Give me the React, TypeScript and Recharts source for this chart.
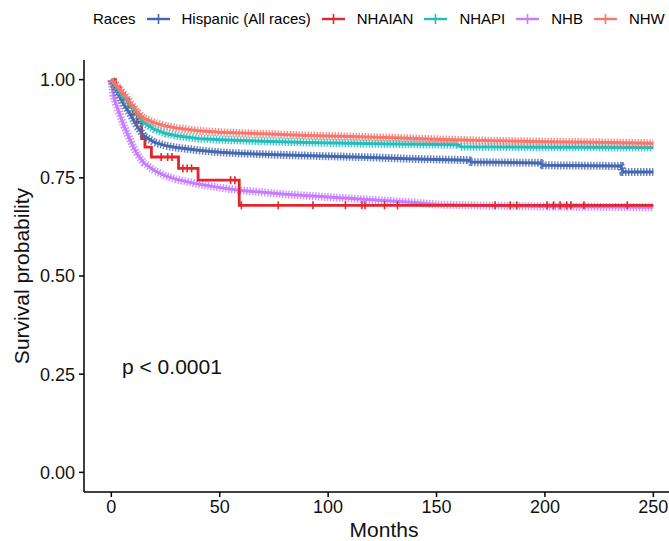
import React from "react";
import { LineChart, Line, XAxis, YAxis } from "recharts";

// Kaplan-Meier curves (months, survival probability)
const hispMonths = [0, 2, 4, 6, 8, 10, 12, 15, 20, 25, 30, 40, 50, 60, 80, 100, 120, 140, 165, 166, 198, 199, 235, 236, 250];
const hispSurv = [1.0, 0.975, 0.955, 0.935, 0.918, 0.9, 0.88, 0.857, 0.84, 0.832, 0.827, 0.82, 0.815, 0.812, 0.808, 0.805, 0.802, 0.798, 0.795, 0.79, 0.788, 0.782, 0.78, 0.765, 0.765];

const nhapiMonths = [0, 2, 4, 6, 8, 10, 12, 15, 20, 25, 30, 40, 50, 70, 90, 110, 130, 160, 161, 200, 250];
const nhapiSurv = [1.0, 0.985, 0.97, 0.955, 0.94, 0.925, 0.91, 0.89, 0.873, 0.863, 0.857, 0.85, 0.847, 0.843, 0.84, 0.838, 0.836, 0.834, 0.829, 0.828, 0.827];

const nhwMonths = [0, 2, 4, 6, 8, 10, 12, 15, 20, 25, 30, 40, 50, 70, 90, 110, 130, 150, 170, 200, 230, 250];
const nhwSurv = [1.0, 0.988, 0.975, 0.962, 0.948, 0.933, 0.918, 0.902, 0.89, 0.882, 0.877, 0.87, 0.866, 0.862, 0.858, 0.855, 0.852, 0.848, 0.845, 0.842, 0.84, 0.838];

const nhbMonths = [0, 1, 2, 4, 6, 8, 10, 12, 15, 20, 25, 30, 40, 50, 60, 70, 80, 100, 120, 140, 150, 175, 200, 250];
const nhbSurv = [1.0, 0.96, 0.94, 0.91, 0.88, 0.855, 0.83, 0.81, 0.788, 0.768, 0.755, 0.746, 0.734, 0.725, 0.718, 0.713, 0.708, 0.701, 0.694, 0.687, 0.682, 0.679, 0.677, 0.675];

const nhaianMonths = [0, 2, 4, 6, 8, 10, 12, 14, 15.5, 18.5, 23, 26, 28, 31, 33, 35, 37, 40, 55, 57, 59, 60, 77, 93, 108, 115.6, 117, 126, 132, 177, 184, 187, 201, 204, 207, 210, 212, 218, 238, 250];
const nhaianSurv = [1.0, 0.98, 0.965, 0.95, 0.93, 0.912, 0.892, 0.85, 0.828, 0.803, 0.803, 0.803, 0.803, 0.774, 0.774, 0.774, 0.774, 0.744, 0.744, 0.744, 0.68, 0.68, 0.68, 0.68, 0.68, 0.68, 0.68, 0.68, 0.68, 0.68, 0.68, 0.68, 0.68, 0.68, 0.68, 0.68, 0.68, 0.68, 0.68, 0.68];
const nhaianCensored = [23, 26, 28, 33, 35, 37, 55, 57, 60, 77, 93, 108, 115.6, 117, 126, 132, 177, 184, 187, 201, 204, 207, 210, 212, 218, 238];

const xTicks = [0, 50, 100, 150, 200, 250];
const yTicks = [0, 0.25, 0.5, 0.75, 1];

const legendNames = ["Hispanic (All races)", "NHAIAN", "NHAPI", "NHB", "NHW"];
const colors = ["#4467B0", "#E2262C", "#22BDBD", "#C77CFF", "#F8766D"];

const toRows = (months: number[], surv: number[]) =>
  months.map((m, i) => ({ month: m, surv: surv[i] }));

const hisp = toRows(hispMonths, hispSurv);
const nhapi = toRows(nhapiMonths, nhapiSurv);
const nhw = toRows(nhwMonths, nhwSurv);
const nhb = toRows(nhbMonths, nhbSurv);
const nhaian = toRows(nhaianMonths, nhaianSurv);

const font = '"Liberation Sans", Arial, Helvetica, sans-serif';

const CensorDot = (props: any) => {
  const { cx, cy, payload } = props;
  if (!nhaianCensored.includes(payload.month)) return <g key={props.key} />;
  return (
    <line key={props.key} x1={cx} x2={cx} y1={cy - 4} y2={cy + 4} stroke={colors[1]} strokeWidth={1.6} />
  );
};

// dense curves: many censor "+" marks make a thick, ticked band
const Dense = (data: any[], color: string, k: string) => [
  <Line key={k + "b"} data={data} dataKey="surv" type="linear" stroke={color} strokeWidth={8}
    strokeDasharray="1.5 1.5" strokeOpacity={0.8} dot={false} isAnimationActive={false} />,
  <Line key={k + "c"} data={data} dataKey="surv" type="linear" stroke={color} strokeWidth={3}
    dot={false} isAnimationActive={false} />,
];

const LegendKey = ({ color }: { color: string }) => (
  <svg width={23} height={12} style={{ margin: "0 12px 0 11px" }}>
    <line x1={0} x2={23} y1={6} y2={6} stroke={color} strokeWidth={2.4} />
    <line x1={11.5} x2={11.5} y1={1} y2={11} stroke={color} strokeWidth={1.6} />
  </svg>
);

export default function App() {
  return (
    <div style={{ position: "absolute", left: 0, top: 0, width: 669, height: 541, overflow: "hidden", background: "#fff", fontFamily: font }}>
      <div style={{ position: "absolute", top: 10, left: 93, display: "flex", alignItems: "center", fontSize: 15, color: "#000", whiteSpace: "nowrap" }}>
        <span>Races</span>
        {legendNames.map((n, i) => (
          <React.Fragment key={n}>
            <LegendKey color={colors[i]} />
            <span>{n}</span>
          </React.Fragment>
        ))}
      </div>
      <LineChart width={685} height={541} margin={{ top: 60, right: 0, bottom: 0, left: 0 }}>
        <XAxis type="number" dataKey="month" domain={[-12.6, 264.6]} ticks={xTicks} allowDataOverflow
          height={49} tickSize={5} tickMargin={3} stroke="#000" strokeWidth={1.5}
          tick={{ fill: "#111", fontSize: 18, fontFamily: font }}
          label={{ content: () => <text x={384} y={537} textAnchor="middle" fontSize={21} fontFamily={font} fill="#111">Months</text> }} />
        <YAxis type="number" domain={[-0.05, 1.05]} ticks={yTicks} allowDataOverflow width={84}
          tickFormatter={(v: number) => v.toFixed(2)} tickSize={5} tickMargin={4} stroke="#000" strokeWidth={1.5}
          tick={{ fill: "#111", fontSize: 18, fontFamily: font }}
          label={{ content: () => <text x={29} y={276} transform="rotate(-90 29 276)" textAnchor="middle" fontSize={21} fontFamily={font} fill="#111">Survival probability</text> }} />
        {Dense(nhb, colors[3], "nhb")}
        <Line data={nhaian} dataKey="surv" type="stepAfter" stroke={colors[1]} strokeWidth={2.8}
          dot={CensorDot} activeDot={false} isAnimationActive={false} />
        {Dense(hisp, colors[0], "hisp")}
        {Dense(nhapi, colors[2], "nhapi")}
        {Dense(nhw, colors[4], "nhw")}
      </LineChart>
      <div style={{ position: "absolute", left: 122, top: 355, fontSize: 21, color: "#111" }}>p &lt; 0.0001</div>
    </div>
  );
}
